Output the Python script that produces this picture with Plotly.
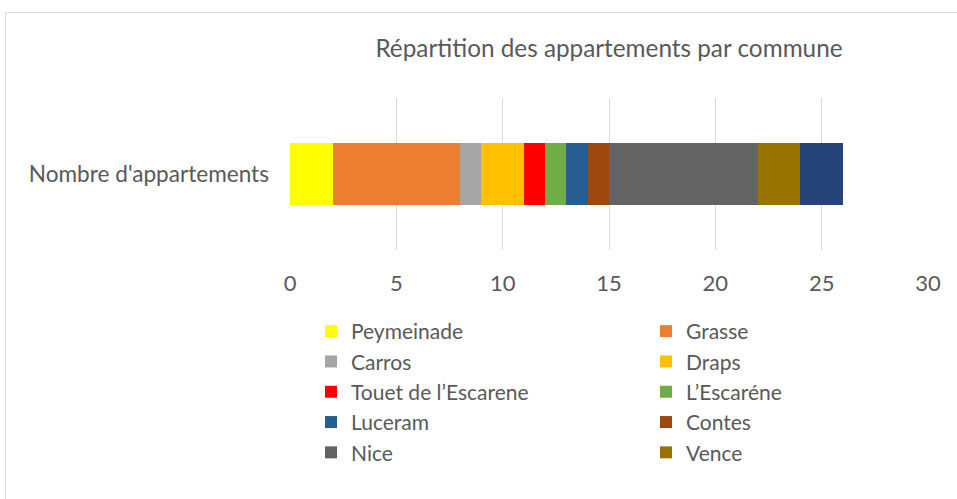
import plotly.graph_objects as go

category = ["Nombre d'appartements"]
communes = ["Peymeinade", "Grasse", "Carros", "Draps", "Touet de l\u2019Escarene",
            "L\u2019Escar\u00e9ne", "Luceram", "Contes", "Nice", "Vence", "Autre"]
values = [2, 6, 1, 2, 1, 1, 1, 1, 7, 2, 2]
colors = ["#FFFF00", "#ED7D31", "#A5A5A5", "#FFC000", "#FF0000",
          "#70AD47", "#255E91", "#9E480E", "#636363", "#997300", "#264478"]
legend_column = ["legend", "legend2", "legend", "legend2", "legend",
                 "legend2", "legend", "legend2", "legend", "legend2", None]
x_ticks = [0, 5, 10, 15, 20, 25, 30]

fig = go.Figure()
for i, (name, v, c, lg) in enumerate(zip(communes, values, colors, legend_column)):
    fig.add_trace(go.Bar(y=category, x=[v], name=name, orientation="h",
                         marker=dict(color=c, line=dict(width=0)),
                         width=0.41, showlegend=lg is not None,
                         legend=lg if lg else "legend", legendgroup="g%d" % i))

L, R, T, B = 290, 29, 98, 249
W, H = 957, 499
pw, ph = W - L - R, H - T - B

leg_common = dict(orientation="v", yanchor="top", xanchor="left",
                  traceorder="normal", font=dict(size=21, color="#595959"),
                  itemwidth=30, tracegroupgap=1, bgcolor="rgba(0,0,0,0)")

fig.update_layout(
    width=W, height=H, barmode="stack",
    margin=dict(l=L, r=R, t=T, b=B, autoexpand=False),
    paper_bgcolor="white", plot_bgcolor="white",
    font=dict(family="Lato", color="#595959", size=21),
    title=dict(text="R\u00e9partition des appartements par commune",
               x=0.5, xref="paper", xanchor="center", y=(H - 48) / H, yanchor="middle",
               font=dict(size=24.3, color="#595959")),
    xaxis=dict(range=[0, 30], tickvals=x_ticks, showgrid=True, gridcolor="#D9D9D9",
               gridwidth=1, zeroline=False, showline=False, ticklabelstandoff=18,
               tickfont=dict(size=22, color="#595959"), fixedrange=True, automargin=False),
    yaxis=dict(showgrid=False, zeroline=False, showline=False, ticklabelstandoff=20,
               tickfont=dict(size=22.6, color="#595959"), range=[-0.5, 0.5], automargin=False),
    legend=dict(x=(311 - L) / pw, y=(H - B - 311) / ph, **leg_common),
    legend2=dict(x=(646 - L) / pw, y=(H - B - 311) / ph, **leg_common),
    shapes=[dict(type="rect", xref="paper", yref="paper",
                 x0=(5.5 - L) / pw, x1=(W + 5 - L) / pw,
                 y0=(H - B - H - 5) / ph, y1=(H - B - 12.5) / ph,
                 line=dict(color="#D9D9D9", width=1), fillcolor="rgba(0,0,0,0)",
                 layer="below")],
)

fig.write_html("out.html", config={"displayModeBar": False},
               post_script="document.body.style.margin='0';document.body.style.overflow='hidden';")
